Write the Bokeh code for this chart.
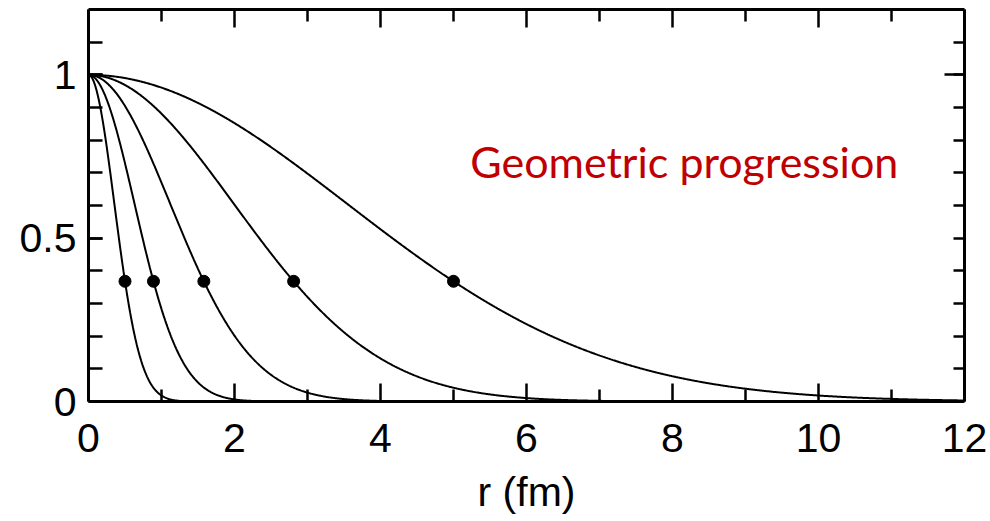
import numpy as np
from bokeh.plotting import figure
from bokeh.models import Range1d, FixedTicker, LinearAxis, Label, CustomJSTickFormatter
from bokeh.embed import file_html
from bokeh.resources import INLINE

# Gaussian range parameters b (fm), a geometric progression (ratio ~10**0.25)
ranges_fm = [0.5, 0.89, 1.58, 2.81, 5.0]
# value of exp(-(r/b)^2) at r = b, where each curve is marked
marker_value = 0.368

x_ticks = [0, 2, 4, 6, 8, 10, 12]
x_minor = [1, 3, 5, 7, 9, 11]
y_ticks = [0, 0.5, 1]
y_tick_labels = ["0", "0.5", "1"]
y_minor = [0.1, 0.2, 0.3, 0.4, 0.5, 0.6, 0.7, 0.8, 0.9, 1.0, 1.1]

title_text = "Geometric progression"
x_label = "r (fm)"

FONT = "Liberation Sans"
TICK_FS = "41px"

p = figure(frame_width=876, frame_height=392,
           x_range=Range1d(0, 12), y_range=Range1d(0, 1.2),
           output_backend="svg", toolbar_location=None,
           min_border_left=88, min_border_right=26,
           min_border_top=9, min_border_bottom=120,
           background_fill_color="white", border_fill_color="white")
p.outline_line_color = None
p.grid.visible = False

r = np.linspace(0, 12, 1200)
for b in ranges_fm:
    p.line(r, np.exp(-(r / b) ** 2), line_color="black", line_width=2)

p.scatter(ranges_fm, [marker_value] * len(ranges_fm), size=12,
          fill_color="black", line_color="black")


def style_axis(ax, tick_in, minor_in):
    ax.axis_line_width = 3
    ax.axis_line_color = "black"
    ax.major_tick_line_width = 2.5
    ax.minor_tick_line_width = 2.5
    ax.major_tick_line_color = "black"
    ax.minor_tick_line_color = "black"
    ax.major_tick_in = tick_in
    ax.major_tick_out = 0
    ax.minor_tick_in = minor_in
    ax.minor_tick_out = 0
    ax.major_label_text_font = FONT
    ax.major_label_text_font_size = TICK_FS
    ax.major_label_text_color = "black"


# bottom axis
xb = p.xaxis[0]
xb.ticker = FixedTicker(ticks=x_ticks, minor_ticks=x_minor)
style_axis(xb, 18, 12)
xb.major_label_standoff = 22
xb.axis_label = x_label
xb.axis_label_text_font = FONT
xb.axis_label_text_font_size = TICK_FS
xb.axis_label_text_font_style = "normal"
xb.axis_label_text_color = "black"
xb.axis_label_standoff = 14

# left axis
yl = p.yaxis[0]
yl.ticker = FixedTicker(ticks=y_ticks, minor_ticks=y_minor)
style_axis(yl, 14, 14)
yl.major_label_standoff = 12
yl.major_label_overrides = {t: s for t, s in zip(y_ticks, y_tick_labels)}

blank = CustomJSTickFormatter(code="return ''")

# top axis (ticks only)
xt = LinearAxis(ticker=FixedTicker(ticks=x_ticks, minor_ticks=x_minor),
                formatter=blank)
style_axis(xt, 18, 12)
xt.major_label_standoff = 0
p.add_layout(xt, "above")

# right axis (ticks only)
yr = LinearAxis(ticker=FixedTicker(ticks=[1], minor_ticks=y_minor),
                formatter=blank)
style_axis(yr, 20, 11)
yr.major_label_standoff = 0
p.add_layout(yr, "right")

p.add_layout(Label(x=5.23, y=0.735, text=title_text,
                   text_font="Lato", text_font_size="43px",
                   text_color="#C00000", text_baseline="alphabetic",
                   text_align="left"))

open("out.html", "w").write(file_html(p, INLINE))
